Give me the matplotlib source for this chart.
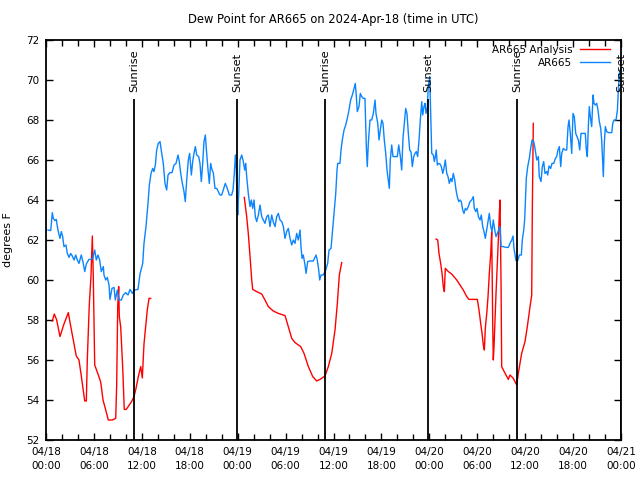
import numpy as np
import matplotlib
matplotlib.use("Agg")
import matplotlib.pyplot as plt

# ---------------- data (hours since 2024-04-18 00:00 UTC) ----------------
analysis_hours = [0.79, 1.04, 1.34, 1.75, 2.25, 2.79, 3.09, 3.51, 3.79, 4.13, 4.42, 4.85, 5.05, 5.17,
                  5.42, 5.63, 5.80, 5.92, 6.10, 6.51, 6.85, 7.14, 7.48, 7.80, 8.30, 8.73, 8.85, 8.98,
                  9.10, 9.18, 9.35, 9.60, 9.80, 10.05, 10.68, 11.02, 11.27, 11.56, 11.86, 12.06, 12.27,
                  12.48, 12.68, 12.90, 13.11,
                  18.0,
                  24.83, 25.13, 25.33, 25.55, 25.76, 25.88, 26.38, 27.01, 27.42, 27.84, 28.46, 29.09,
                  29.93, 30.34, 30.77, 31.18, 31.89, 32.31, 32.85, 33.40, 33.90, 34.31, 34.94, 35.35,
                  35.78, 36.19, 36.48, 36.73, 37.03,
                  42.0,
                  48.84, 49.05, 49.21, 49.42, 49.59, 49.75, 49.88, 50.00, 50.38, 50.80, 51.43, 51.84,
                  52.25, 52.68, 52.97, 54.01, 54.22, 54.43, 54.60, 54.76, 54.89, 55.01, 55.19, 55.35,
                  55.51, 55.69, 55.81, 55.94, 56.01, 56.10, 56.35, 56.64, 56.77, 56.85, 56.98, 57.06,
                  57.27, 57.60, 57.89, 58.10, 58.52, 58.94, 59.14, 59.56, 59.98, 60.27, 60.61, 60.82,
                  60.90, 61.02]
analysis_dewpt = [57.95, 58.3, 58.0, 57.17, 57.8, 58.37, 57.7, 56.8, 56.2, 56.0, 55.2, 53.95, 53.95, 56.0,
                  58.75, 60.17, 62.2, 60.2, 55.75, 55.3, 54.9, 54.0, 53.5, 53.0, 53.0, 53.08, 54.75, 58.67,
                  59.67, 58.17, 57.67, 55.67, 53.53, 53.53, 53.9, 54.17, 54.58, 55.17, 55.67, 55.1, 56.8,
                  57.67, 58.5, 59.08, 59.08,
                  np.nan,
                  64.13, 63.17, 62.33, 61.17, 60.0, 59.53, 59.42, 59.3, 59.0, 58.67, 58.45, 58.33,
                  58.22, 57.67, 57.08, 56.87, 56.67, 56.33, 55.67, 55.17, 54.95, 55.03, 55.2, 55.67,
                  56.33, 57.5, 58.83, 60.25, 60.87,
                  np.nan,
                  62.05, 62.0, 61.33, 60.83, 60.33, 59.67, 59.42, 60.58, 60.42, 60.3, 60.0, 59.75,
                  59.5, 59.17, 59.03, 59.03, 58.5, 57.83, 57.33, 56.75, 56.5, 57.58, 58.33, 59.17,
                  60.33, 61.33, 62.42, 57.67, 56.0, 56.67, 59.33, 62.0, 63.33, 64.0, 59.83, 55.67,
                  55.5, 55.25, 55.03, 55.25, 55.08, 54.75, 55.33, 56.33, 56.92, 57.67, 58.67, 59.25,
                  63.67, 67.83]

obs_hours = [0.25, 0.59, 0.79, 0.91, 1.13, 1.29, 1.42, 1.59, 1.75, 1.92, 2.09, 2.25, 2.50, 2.67, 2.88,
             3.09, 3.29, 3.51, 3.72, 3.92, 4.13, 4.42, 4.63, 4.85, 5.05, 5.38, 5.67, 5.85, 6.10, 6.30,
             6.51, 6.72, 6.92, 7.18, 7.26, 7.48, 7.68, 7.89, 8.01, 8.26, 8.52, 8.68, 8.93, 9.14, 9.43,
             9.68, 9.98, 10.27, 10.52, 10.81, 11.02, 11.52, 11.77, 12.11, 12.27, 12.52, 12.77, 12.94,
             13.15, 13.36, 13.52, 13.69, 13.86, 14.06, 14.28, 14.49, 14.69, 14.90, 15.11, 15.28, 15.53,
             15.78, 16.03, 16.28, 16.53, 16.69, 16.87, 17.07, 17.28, 17.44, 17.62, 17.82, 17.99, 18.20,
             18.37, 18.53, 18.70, 18.87, 19.12, 19.28, 19.45, 19.62, 19.78, 19.95, 20.12, 20.29, 20.45,
             20.62, 20.79, 20.95, 21.16, 21.38, 21.58, 21.79, 22.00, 22.20, 22.45, 22.70, 22.95, 23.25,
             23.42, 23.58, 23.71, 23.83, 23.92, 24.01, 24.13, 24.29, 24.51, 24.71, 24.88, 25.01, 25.13,
             25.33, 25.55, 25.71, 25.88, 26.05, 26.21, 26.38, 26.59, 26.80, 27.01, 27.21, 27.42, 27.64,
             27.84, 28.05, 28.26, 28.46, 28.68, 28.89, 29.09, 29.30, 29.52, 29.72, 29.93, 30.14, 30.34,
             30.56, 30.77, 30.97, 31.18, 31.39, 31.59, 31.81, 31.93, 32.06, 32.22, 32.43, 32.56, 32.77,
             33.06, 33.47, 33.81, 33.97, 34.15, 34.27, 34.44, 34.72, 35.02, 35.27, 35.44, 35.69, 35.85,
             36.06, 36.28, 36.44, 36.53, 36.81, 36.94, 37.10, 37.32, 37.53, 37.73, 37.94, 38.15, 38.36,
             38.57, 38.73, 38.86, 38.98, 39.19, 39.36, 39.53, 39.73, 39.94, 40.11, 40.23, 40.36, 40.57,
             40.78, 40.99, 41.20, 41.32, 41.54, 41.70, 41.86, 42.04, 42.20, 42.36, 42.54, 42.70, 42.86,
             42.99, 43.11, 43.29, 43.45, 43.70, 43.99, 44.17, 44.37, 44.54, 44.70, 44.87, 45.04, 45.20,
             45.37, 45.54, 45.71, 45.87, 46.04, 46.21, 46.37, 46.54, 46.71, 46.87, 47.05, 47.17, 47.33,
             47.46, 47.58, 47.75, 47.87, 48.05, 48.17, 48.30, 48.50, 48.63, 48.75, 48.87, 49.00, 49.17,
             49.34, 49.50, 49.68, 49.84, 50.00, 50.18, 50.34, 50.50, 50.68, 50.84, 51.00, 51.18, 51.34,
             51.50, 51.68, 51.84, 52.00, 52.18, 52.34, 52.51, 52.68, 52.88, 53.09, 53.30, 53.51, 53.63,
             53.81, 53.97, 54.14, 54.35, 54.51, 54.68, 54.85, 55.01, 55.18, 55.35, 55.51, 55.69, 55.85,
             56.01, 56.19, 56.35, 56.51, 56.69, 56.85, 56.98, 57.27, 57.60, 57.89, 58.10, 58.32, 58.48,
             58.60, 58.73, 58.85, 59.07, 59.27, 59.52, 59.64, 59.82, 59.94, 60.14, 60.32, 60.52, 60.69,
             60.86, 61.07, 61.23, 61.45, 61.65, 61.77, 61.98, 62.15, 62.32, 62.48, 62.70, 62.82, 62.99,
             63.20, 63.36, 63.58, 63.78, 63.95, 64.11, 64.28, 64.45, 64.58, 64.78, 64.99, 65.20, 65.37,
             65.49, 65.65, 65.83, 65.99, 66.15, 66.33, 66.49, 66.66, 66.83, 66.99, 67.37, 67.53, 67.66,
             67.78, 67.91, 68.03, 68.16, 68.33, 68.50, 68.62, 68.79, 68.96, 69.12, 69.29, 69.46, 69.58,
             69.71, 69.79, 69.91, 70.04, 70.21, 70.42, 70.84, 70.97, 71.13, 71.38, 71.55, 71.67, 71.80,
             71.88]
obs_dewpt = [62.5, 62.47, 63.37, 63.08, 62.97, 63.03, 62.67, 62.33, 62.08, 62.42, 62.17, 61.67, 61.75, 61.33, 61.13,
             61.33, 61.2, 61.0, 61.25, 61.0, 60.83, 61.25, 60.9, 60.42, 60.8, 61.03, 61.03, 61.08, 61.5, 61.0,
             61.25, 61.0, 60.42, 60.67, 60.25, 60.0, 60.13, 59.75, 59.03, 59.58, 59.63, 59.0, 59.5, 59.0, 59.0,
             59.25, 59.37, 59.25, 59.53, 59.33, 59.5, 59.53, 60.3, 60.83, 61.83, 62.67, 63.83, 64.75,
             65.33, 65.58, 65.42, 65.75, 66.5, 66.83, 66.92, 66.33, 65.83, 64.83, 64.5, 65.25, 65.37,
             65.37, 65.75, 65.83, 66.25, 65.92, 65.33, 64.83, 64.42, 63.92, 65.0, 66.0, 66.33, 65.25,
             65.92, 66.33, 66.67, 66.25, 66.17, 65.83, 64.92, 65.83, 66.92, 67.25, 66.33, 65.5, 64.83,
             65.83, 65.5, 65.37, 64.58, 64.58, 64.42, 64.25, 64.25, 64.5, 64.83, 64.58, 64.25, 64.25,
             64.5, 65.33, 66.25, 65.5, 64.0, 63.25, 64.33, 66.0, 66.25, 65.92, 65.5, 65.83, 65.17,
             64.33, 63.67, 64.0, 63.58, 64.0, 63.17, 62.92, 63.25, 63.75, 63.17, 63.0, 62.83, 63.17,
             63.25, 62.67, 63.25, 62.9, 62.67, 63.17, 63.33, 63.0, 62.92, 62.67, 62.08, 62.42, 62.58,
             62.08, 61.75, 62.0, 61.83, 62.33, 62.0, 62.5, 61.67, 61.08, 61.25, 60.75, 60.33, 60.92,
             60.95, 60.95, 61.25, 61.0, 60.5, 60.0, 60.25, 60.25, 60.5, 60.83, 61.5, 61.58, 62.33,
             63.33, 64.33, 65.5, 65.83, 65.83, 66.5, 67.0, 67.5, 67.75, 68.08, 68.5, 69.0, 69.25,
             69.58, 69.83, 69.17, 68.42, 68.67, 69.33, 69.17, 69.08, 69.08, 66.67, 65.67, 66.83, 68.0,
             68.0, 68.33, 69.0, 68.33, 67.83, 67.0, 67.5, 68.0, 67.83, 67.0, 66.33, 65.5, 65.0,
             64.58, 66.0, 66.75, 66.17, 66.17, 66.17, 66.75, 66.17, 65.5, 67.08, 67.83, 68.58, 68.33,
             67.33, 66.5, 66.4, 65.67, 66.17, 66.33, 66.42, 66.17, 67.0, 68.0, 68.92, 68.25, 68.67,
             68.83, 68.33, 68.67, 69.67, 70.17, 68.33, 66.33, 66.25, 65.92, 66.17, 66.5, 65.75, 65.83,
             65.8, 65.67, 65.33, 65.6, 66.0, 65.33, 65.17, 64.83, 65.08, 64.92, 65.33, 65.0, 64.5,
             64.17, 63.92, 64.0, 63.92, 63.5, 63.33, 63.58, 63.5, 63.67, 63.92, 64.0, 64.17, 63.58,
             63.42, 63.58, 63.17, 63.0, 63.25, 62.67, 62.42, 62.08, 62.5, 62.92, 63.33, 62.67, 62.42,
             63.0, 62.5, 62.17, 62.33, 62.5, 62.67, 61.67, 61.67, 61.63, 61.63, 61.83, 62.0, 62.2,
             61.58, 61.25, 60.97, 60.97, 61.25, 61.25, 62.0, 62.5, 63.03, 65.08, 65.67, 66.08, 66.58,
             67.0, 66.92, 66.58, 66.0, 66.17, 65.17, 64.92, 65.67, 65.92, 65.33, 65.42, 65.25, 65.7,
             65.58, 65.83, 65.83, 66.08, 66.17, 66.5, 66.67, 65.67, 66.33, 66.58, 66.5, 66.5, 67.67,
             68.0, 67.33, 66.33, 68.33, 68.17, 67.33, 67.17, 67.0, 66.5, 67.33, 67.33, 67.33, 66.5,
             66.17, 67.67, 68.67, 68.17, 67.67, 69.25, 68.83, 68.75, 68.83, 68.5, 67.92, 67.58, 67.0,
             65.83, 65.17, 66.83, 67.67, 67.42, 67.37, 67.37, 67.83, 68.0, 68.0, 68.5, 69.5, 70.33,
             70.5]

sun_hours = [11.02, 23.92, 34.94, 47.83, 58.98, 71.98]
sun_labels = ["Sunrise", "Sunset", "Sunrise", "Sunset", "Sunrise", "Sunset"]

xtick_hours = [0, 6, 12, 18, 24, 30, 36, 42, 48, 54, 60, 66, 72]
xtick_labels = ["04/18\n00:00", "04/18\n06:00", "04/18\n12:00", "04/18\n18:00",
                "04/19\n00:00", "04/19\n06:00", "04/19\n12:00", "04/19\n18:00",
                "04/20\n00:00", "04/20\n06:00", "04/20\n12:00", "04/20\n18:00",
                "04/21\n00:00"]
ytick_vals = [52, 54, 56, 58, 60, 62, 64, 66, 68, 70, 72]

# ---------------- plotting ----------------
FONT = "DejaVu Sans"
FS = 7.5
plt.rcParams['font.family'] = [FONT]

fig = plt.figure(figsize=(6.4, 4.8), dpi=100)
ax = fig.add_axes([46/640, 40/480, 575/640, 400/480])

RED = "#ff0000"
BLUE = "#0a85ff"

ax.plot(analysis_hours, analysis_dewpt, color=RED, lw=1.0, label="AR665 Analysis", zorder=2)
ax.plot(obs_hours, obs_dewpt, color=BLUE, lw=1.0, label="AR665", zorder=2)

for h, lab in zip(sun_hours, sun_labels):
    ax.vlines(h, 52, 69.05, color="black", lw=1.3, zorder=3)
    ax.text(h, 69.4, lab, rotation=90, ha="center", va="bottom",
            fontsize=8.2, family=FONT, clip_on=False, zorder=4)

ax.set_xlim(0, 72)
ax.set_ylim(52, 72)
ax.set_xticks(xtick_hours)
ax.set_xticklabels(xtick_labels, fontsize=FS, linespacing=1.5)
ax.set_xticks(np.arange(0, 73, 2), minor=True)
ax.set_yticks(ytick_vals)
ax.set_yticklabels([str(v) for v in ytick_vals], fontsize=FS)

ax.tick_params(which="both", direction="in", top=True, right=True, colors="black")
ax.tick_params(which="major", length=5, width=1.0, pad=5)
ax.tick_params(which="minor", length=4, width=1.0)
for sp in ax.spines.values():
    sp.set_linewidth(1.3)

ax.set_ylabel("degrees F", fontsize=8)
ax.yaxis.set_label_coords(-0.058, 0.5)

fig.text(0.5 * (46 + 621) / 640, (480 - 20) / 480,
         "Dew Point for AR665 on 2024-Apr-18 (time in UTC)",
         ha="center", va="center", fontsize=8.3, family=FONT)

leg = ax.legend(loc="upper right", bbox_to_anchor=(610/640, (480 - 45)/480),
                bbox_transform=fig.transFigure, frameon=False, markerfirst=False,
                fontsize=FS, handlelength=2.9, handletextpad=0.7,
                labelspacing=0.3, borderpad=0, borderaxespad=0)

fig.savefig("out.png", dpi=100)
